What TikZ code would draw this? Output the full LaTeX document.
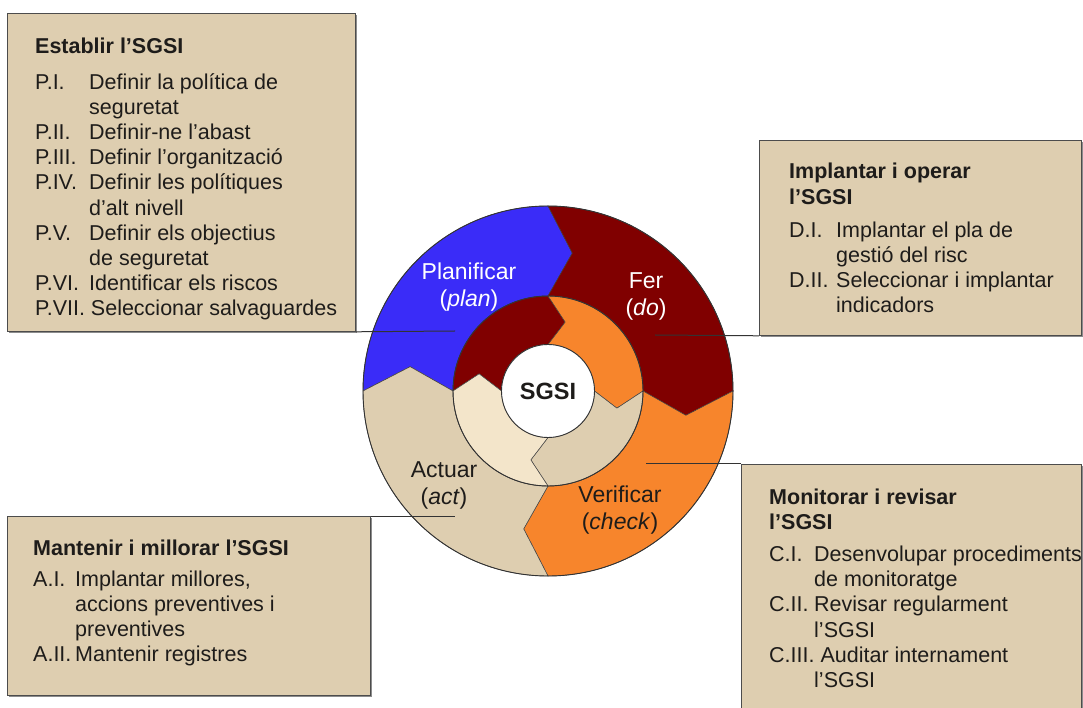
\documentclass[tikz,border=0pt]{standalone}
\usepackage{fontspec}
\setmainfont{Liberation Sans}
\usetikzlibrary{shadows}
\definecolor{cblue}{RGB}{58,44,248}
\definecolor{cmaroon}{RGB}{128,0,0}
\definecolor{corange}{RGB}{247,133,44}
\definecolor{ctan}{RGB}{222,206,176}
\definecolor{ccream}{RGB}{243,229,202}
\definecolor{ink}{RGB}{30,28,26}
\begin{document}
\begin{tikzpicture}[
  x=1pt,y=1pt,
  box/.style={draw=black!70, line width=0.8pt, fill=ctan, anchor=north west, inner sep=0pt,
    drop shadow={shadow xshift=1.5pt, shadow yshift=-1.5pt, fill=black!45, opacity=1}},
  boxtext/.style={anchor=base west, inner sep=0pt, text=ink, font=\fontsize{21.5}{25.2}\selectfont},
  seg/.style={draw=black!75, line width=0.5pt},
  ring/.style={draw=black!80, line width=0.9pt},
  lbl/.style={align=center, font=\fontsize{23}{27}\selectfont},
  leader/.style={draw=black!80, line width=1pt}
]
\useasboundingbox (0,0) rectangle (1083,707);

% outer and inner ring
\begin{scope}[shift={(548,316)}]
\foreach \s/\col in {90/cblue, 0/cmaroon, -90/corange, 180/ctan}
  \draw[seg, fill=\col] (\s:185) arc[start angle=\s, end angle=\s+90, radius=185]
    -- (\s+80:140) -- (\s+90:95) arc[start angle=\s+90, end angle=\s, radius=95]
    -- (\s-10:140) -- cycle;
\foreach \s/\col in {90/cmaroon, 0/corange, -90/ctan, 180/ccream}
  \draw[seg, fill=\col] (\s:95) arc[start angle=\s, end angle=\s+90, radius=95]
    -- (\s+76:71) -- (\s+90:46.5) arc[start angle=\s+90, end angle=\s, radius=46.5]
    -- (\s-14:71) -- cycle;
\draw[ring] (0,0) circle[radius=185];
\draw[ring] (0,0) circle[radius=95];
\end{scope}
\node[circle, draw=black!80, line width=0.9pt, fill=white, minimum size=93, inner sep=0pt,
  font=\bfseries\fontsize{23.5}{28}\selectfont, text=ink] (hub) at (548,316) {SGSI};

\node[lbl, text=white] (plan) at (469,420) {Planificar\\(\textit{plan})};
\node[lbl, text=white] (do) at (646,411) {Fer\\(\textit{do})};
\node[lbl, text=ink] (act) at (444,222) {Actuar\\(\textit{act})};
\node[lbl, text=ink] (check) at (620,197) {Verificar\\(\textit{check})};

% boxes
\node[box, minimum width=348, minimum height=318] (P) at (7,694) {};
\node[box, minimum width=322, minimum height=195] (D) at (759,567) {};
\node[box, minimum width=340, minimum height=260] (C) at (741,243) {};
\node[box, minimum width=363, minimum height=179] (A) at (7,191) {};

\node[boxtext] (Ptxt) at (35,653) {\begin{tabular}[t]{@{}p{54pt}@{}l@{}}
\multicolumn{2}{@{}l@{}}{\bfseries Establir l’SGSI}\\[10pt]
P.I. & Definir la política de\\
 & seguretat\\
P.II. & Definir-ne l’abast\\
P.III. & Definir l’organització\\
P.IV. & Definir les polítiques\\
 & d’alt nivell\\
P.V. & Definir els objectius\\
 & de seguretat\\
P.VI. & Identificar els riscos\\
\multicolumn{2}{@{}l@{}}{P.VII. Seleccionar salvaguardes}
\end{tabular}};

\node[boxtext] (Dtxt) at (789,528) {\begin{tabular}[t]{@{}p{47pt}@{}l@{}}
\multicolumn{2}{@{}l@{}}{\bfseries Implantar i operar}\\
\multicolumn{2}{@{}l@{}}{\bfseries l’SGSI}\\[8pt]
D.I. & Implantar el pla de\\
 & gestió del risc\\
D.II. & Seleccionar i implantar\\
 & indicadors
\end{tabular}};

\node[boxtext] (Ctxt) at (769,203) {\begin{tabular}[t]{@{}p{45pt}@{}l@{}}
\multicolumn{2}{@{}l@{}}{\bfseries Monitorar i revisar}\\
\multicolumn{2}{@{}l@{}}{\bfseries l’SGSI}\\[7pt]
C.I. & Desenvolupar procediments\\
 & de monitoratge\\
C.II. & Revisar regularment\\
 & l’SGSI\\
\multicolumn{2}{@{}l@{}}{C.III. Auditar internament}\\
 & l’SGSI
\end{tabular}};

\node[boxtext] (Atxt) at (33,152) {\begin{tabular}[t]{@{}p{42pt}@{}l@{}}
\multicolumn{2}{@{}l@{}}{\bfseries Mantenir i millorar l’SGSI}\\[6pt]
A.I. & Implantar millores,\\
 & accions preventives i\\
 & preventives\\
A.II. & Mantenir registres
\end{tabular}};

% leader lines
\coordinate (pP) at (455,376);
\coordinate (pD) at (655,372);
\coordinate (pC) at (646,243);
\coordinate (pA) at (455,191);
\draw[leader] (P.south east) -- (pP);
\draw[leader] (pD) -- (D.south west);
\draw[leader] (pC) -- (C.north west);
\draw[leader] (A.north east) -- (pA);
\end{tikzpicture}
\end{document}
